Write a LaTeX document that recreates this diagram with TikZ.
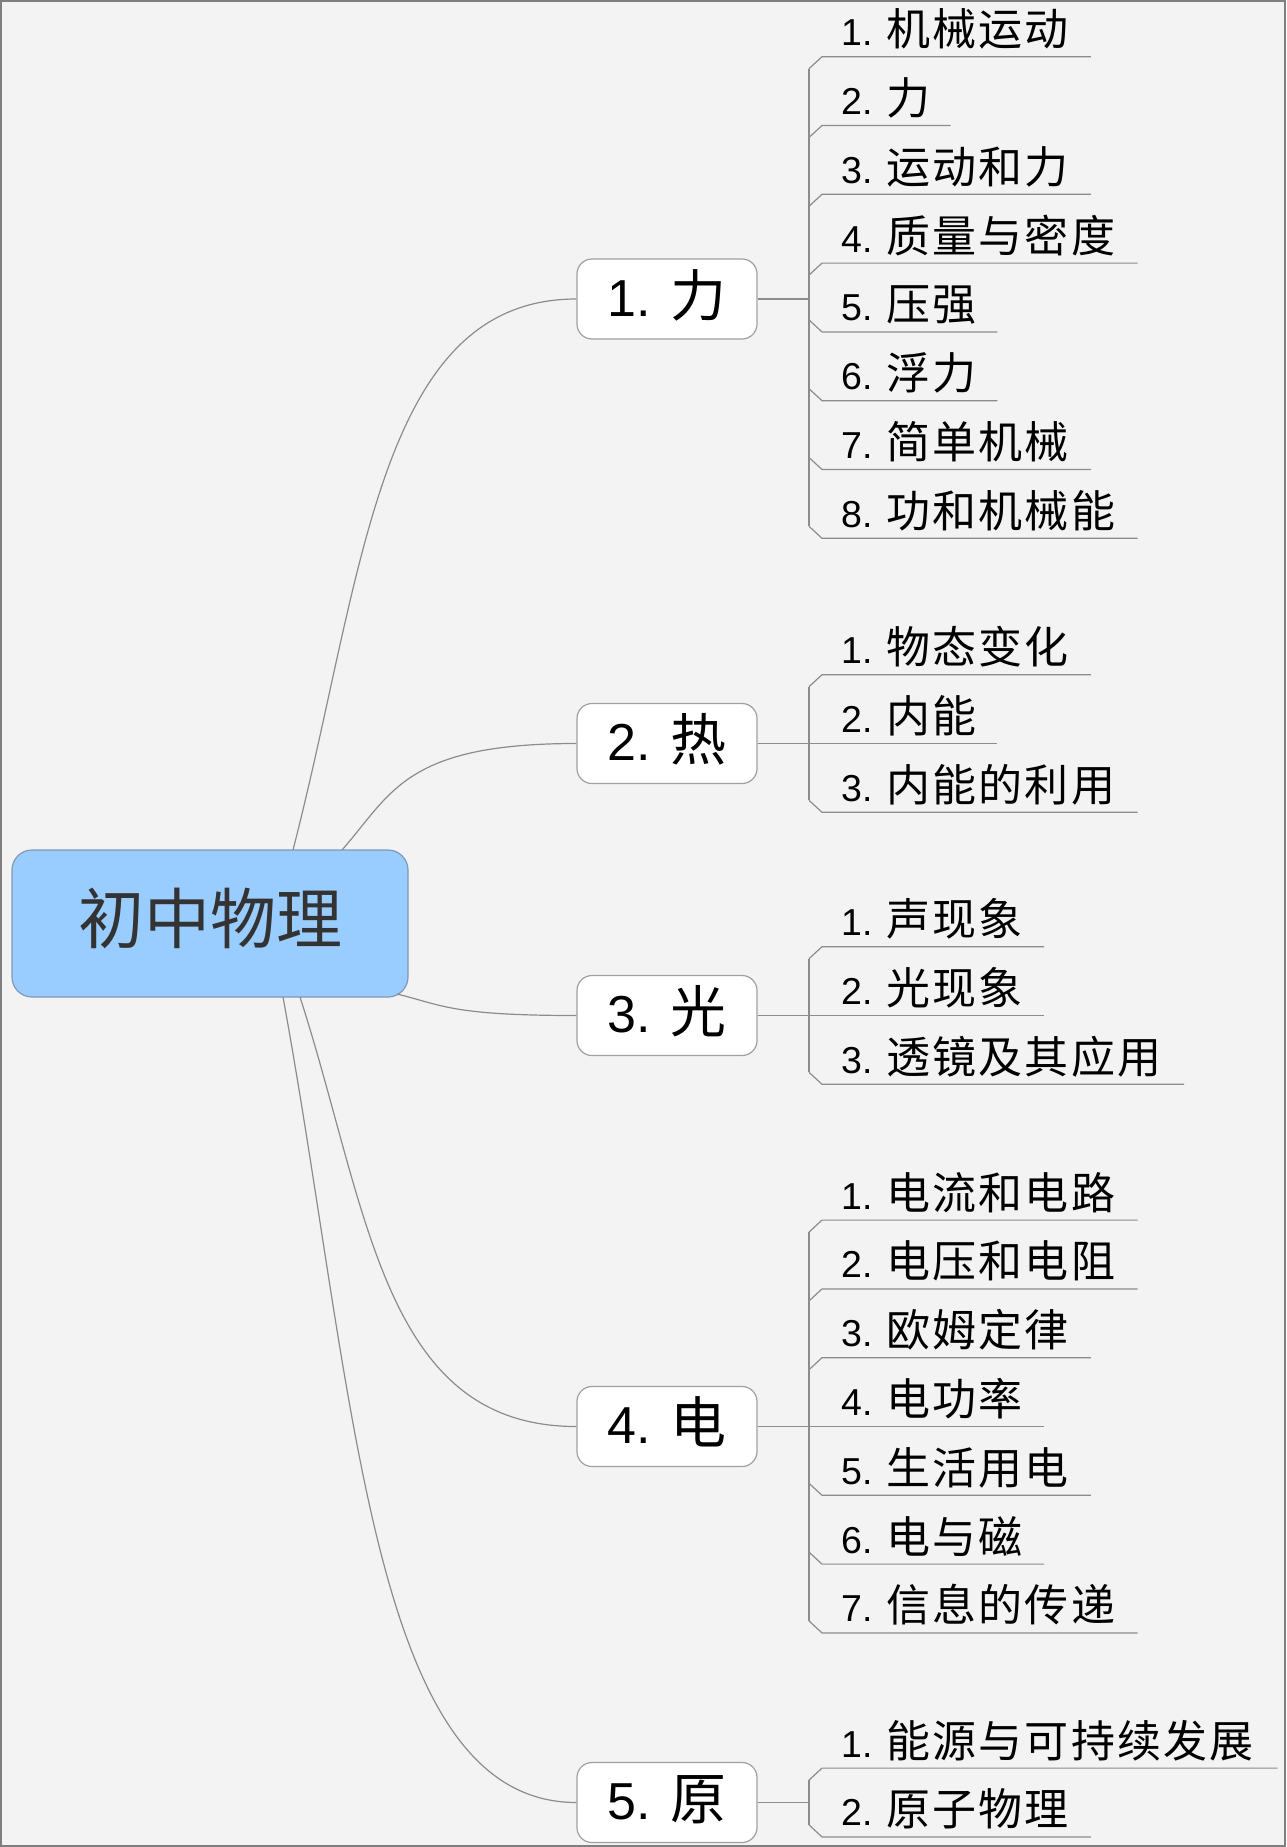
\documentclass[tikz,border=0pt]{standalone}
\usepackage{fontspec}
\setmainfont{Liberation Sans}
\newfontfamily\cjk{Noto Sans CJK SC}
\newfontfamily\cjkl[LetterSpace=5]{Noto Sans CJK SC}
\definecolor{bggray}{HTML}{F3F3F3}
\definecolor{framegray}{HTML}{7F7F7F}
\definecolor{linegray}{HTML}{8C8C8C}
\definecolor{boxgray}{HTML}{A0A0A0}
\definecolor{rootblue}{HTML}{99CCFF}
\definecolor{rootborder}{HTML}{7F99B8}
\definecolor{textdark}{HTML}{333333}
\newcommand\lz[1]{{\cjkl\fontsize{44}{48}\selectfont #1}}
\newcommand\bz[1]{{\cjk\fontsize{56}{60}\selectfont #1}}
% #1 name, #2 underline y, #3 number of CJK chars, #4 text, #5 bevel direction
\newcommand\childitem[5]{%
  \node[leaf] (#1) at (841,{#2-11}) {#4};
  \coordinate (#1-k) at (822,#2);
  \coordinate (#1-e) at ({904+46.7*#3},#2);
  \coordinate (#1-b) at (809,{#2+12*(#5)});
  \draw[conn] (#1-b) -- (#1-k) -- (#1-e);
}
\begin{document}
\begin{tikzpicture}[x=1pt,y=-1pt,
  conn/.style={draw=linegray,line width=1.2pt},
  rootbox/.style={draw=rootborder,fill=rootblue,line width=1.2pt,rounded corners=20pt,
    minimum width=396pt,minimum height=147pt,inner sep=0pt,text height=50pt,text depth=10pt,
    text=textdark},
  branchbox/.style={draw=boxgray,fill=white,line width=1.2pt,rounded corners=15pt,
    minimum width=180pt,minimum height=80pt,inner sep=0pt,text height=40pt,text depth=6pt,
    font=\fontsize{52}{56}\selectfont,text=black},
  leaf/.style={inner sep=0pt,anchor=base west,font=\fontsize{37.5}{40}\selectfont,text=black}]
\useasboundingbox (0,0) rectangle (1286,1847);
\fill[bggray] (0,0) rectangle (1286,1847);
\draw[framegray,line width=2pt] (1,1) rectangle (1285,1846);

% root
\node[rootbox] (root) at (210,923.5) {\cjk\fontsize{66}{70}\selectfont 初中物理};
\coordinate (s1) at (293,850);
\coordinate (s2) at (342,850);
\coordinate (s3) at (397,994);
\coordinate (s4) at (300,997);
\coordinate (s5) at (283,997);

% branches
\node[branchbox] (b1) at (667,299) {1. \bz{力}};
\node[branchbox] (b2) at (667,743.5) {2. \bz{热}};
\node[branchbox] (b3) at (667,1015.5) {3. \bz{光}};
\node[branchbox] (b4) at (667,1426.5) {4. \bz{电}};
\node[branchbox] (b5) at (667,1802.5) {5. \bz{原}};

% root to branches
\draw[conn] (s1) .. controls (364,574.5) and (378,299) .. (b1.west);
\draw[conn] (s2) .. controls (392,793) and (405,743.5) .. (b2.west);
\draw[conn] (s3) .. controls (442,1005) and (451,1015.5) .. (b3.west);
\draw[conn] (s4) .. controls (369,1211) and (383,1426.5) .. (b4.west);
\draw[conn] (s5) .. controls (356.5,1399) and (371,1802.5) .. (b5.west);

% branch 1 children
\coordinate (k1) at (809,299);
\draw[conn] (b1.east) -- (k1);
\childitem{c11}{56.7}{4}{1. \lz{机械运动}}{1}
\childitem{c12}{125.5}{1}{2. \lz{力}}{1}
\childitem{c13}{194.3}{4}{3. \lz{运动和力}}{1}
\childitem{c14}{263.1}{5}{4. \lz{质量与密度}}{1}
\childitem{c15}{331.9}{2}{5. \lz{压强}}{-1}
\childitem{c16}{400.7}{2}{6. \lz{浮力}}{-1}
\childitem{c17}{469.5}{4}{7. \lz{简单机械}}{-1}
\childitem{c18}{538.3}{5}{8. \lz{功和机械能}}{-1}
\draw[conn] (c11-b) -- (c18-b);

% branch 2 children
\coordinate (k2) at (809,743.5);
\draw[conn] (b2.east) -- (k2);
\childitem{c21}{674.7}{4}{1. \lz{物态变化}}{1}
\childitem{c22}{743.5}{2}{2. \lz{内能}}{0}
\childitem{c23}{812.3}{5}{3. \lz{内能的利用}}{-1}
\draw[conn] (c21-b) -- (c23-b);

% branch 3 children
\coordinate (k3) at (809,1015.5);
\draw[conn] (b3.east) -- (k3);
\childitem{c31}{946.7}{3}{1. \lz{声现象}}{1}
\childitem{c32}{1015.5}{3}{2. \lz{光现象}}{0}
\childitem{c33}{1084.3}{6}{3. \lz{透镜及其应用}}{-1}
\draw[conn] (c31-b) -- (c33-b);

% branch 4 children
\coordinate (k4) at (809,1426.5);
\draw[conn] (b4.east) -- (k4);
\childitem{c41}{1220.1}{5}{1. \lz{电流和电路}}{1}
\childitem{c42}{1288.9}{5}{2. \lz{电压和电阻}}{1}
\childitem{c43}{1357.7}{4}{3. \lz{欧姆定律}}{1}
\childitem{c44}{1426.5}{3}{4. \lz{电功率}}{0}
\childitem{c45}{1495.3}{4}{5. \lz{生活用电}}{-1}
\childitem{c46}{1564.1}{3}{6. \lz{电与磁}}{-1}
\childitem{c47}{1632.9}{5}{7. \lz{信息的传递}}{-1}
\draw[conn] (c41-b) -- (c47-b);

% branch 5 children
\coordinate (k5) at (809,1802.5);
\draw[conn] (b5.east) -- (k5);
\childitem{c51}{1768.1}{8}{1. \lz{能源与可持续发展}}{1}
\childitem{c52}{1836.9}{4}{2. \lz{原子物理}}{-1}
\draw[conn] (c51-b) -- (c52-b);
\end{tikzpicture}
\end{document}
